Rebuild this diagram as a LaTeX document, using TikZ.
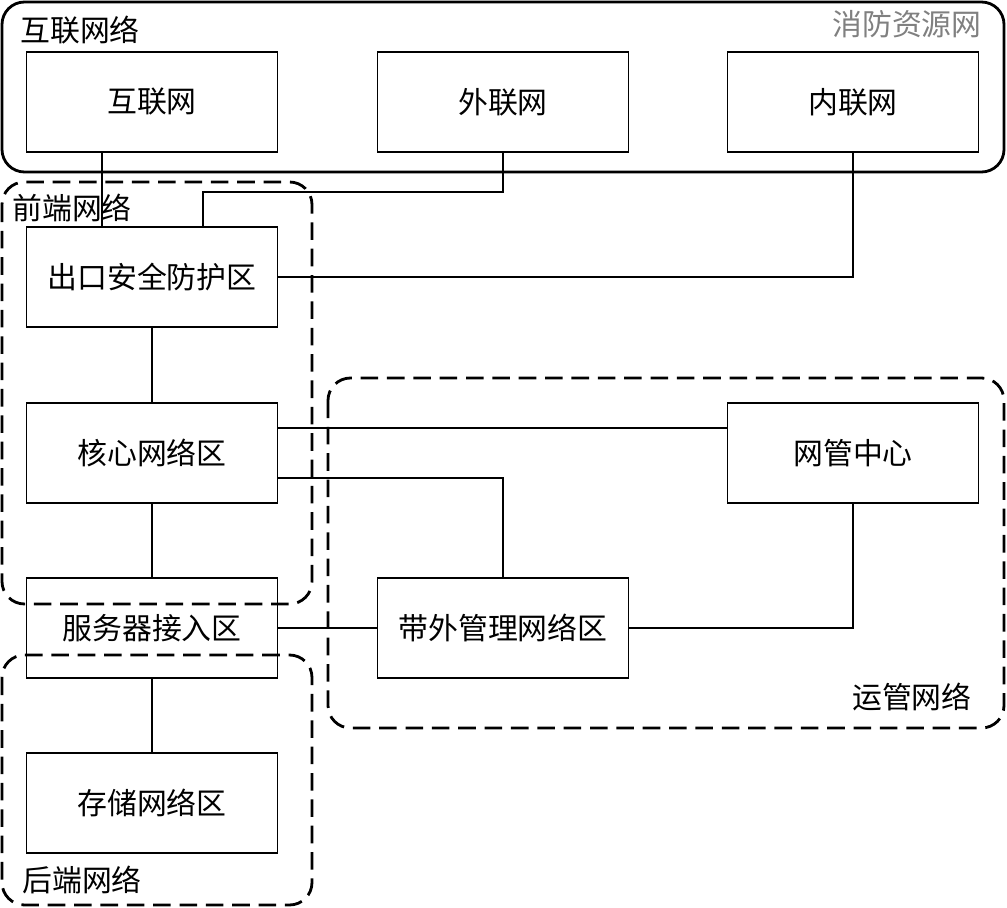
\documentclass[tikz,border=0pt]{standalone}
\usepackage{fontspec}
\newfontfamily\cjk{Noto Sans CJK SC}
\usetikzlibrary{positioning}
\tikzset{
	box/.style = {draw, thick, minimum width=5.02cm, minimum height=2cm, inner sep=0pt, font=\cjk\fontsize{17}{20}\selectfont},
	grp/.style = {line width=1.6pt, rounded corners=0.45cm},
	dgrp/.style = {grp, dash pattern=on 10pt off 5pt},
	lbl/.style = {font=\cjk\fontsize{17}{20}\selectfont, inner sep=0pt},
	link/.style = {thick}
}
\begin{document}
\begin{tikzpicture}[x=0.02cm,y=-0.02cm]
	\useasboundingbox (0,0) rectangle (1007,908);
	% groups
	\draw[grp] (2,2) rectangle (1004,172);
	\draw[dgrp] (2,182) rectangle (312,604);
	\draw[dgrp] (328,378) rectangle (1004,728);
	\draw[dgrp] (2,655) rectangle (312,905);
	\node[lbl, anchor=west] (gnet) at (20,30) {互联网络};
	\node[lbl, anchor=east, text=gray] (mark) at (982,24) {消防资源网};
	\node[lbl, anchor=west] (gfront) at (12,208) {前端网络};
	\node[lbl, anchor=east] (gops) at (972,697) {运管网络};
	\node[lbl, anchor=west] (gback) at (22,880) {后端网络};
	
	% boxes
	\node[box] (inet) at (152,102) {互联网};
	\node[box] (extra) at (503,102) {外联网};
	\node[box] (intra) at (853,102) {内联网};
	\node[box] (exitz) at (152,277) {出口安全防护区};
	\node[box] (core) at (152,453) {核心网络区};
	\node[box] (srv) at (152,628) {服务器接入区};
	\node[box] (stor) at (152,803) {存储网络区};
	\node[box] (nmc) at (853,453) {网管中心};
	\node[box] (oob) at (503,628) {带外管理网络区};
	
	% links
	\draw[link] (inet.south -| 102,0) -- (exitz.north -| 102,0);
	\draw[link] (extra.south) |- (203,192) -- (exitz.north -| 203,0);
	\draw[link] (intra.south) |- (exitz.east);
	\draw[link] (exitz) -- (core);
	\draw[link] (core.east |- 0,428) -- (nmc.west |- 0,428);
	\draw[link] (core.east |- 0,478) -| (oob.north);
	\draw[link] (core) -- (srv);
	\draw[link] (srv) -- (oob);
	\draw[link] (srv) -- (stor);
	\draw[link] (oob.east) -| (nmc.south);
\end{tikzpicture}
\end{document}
